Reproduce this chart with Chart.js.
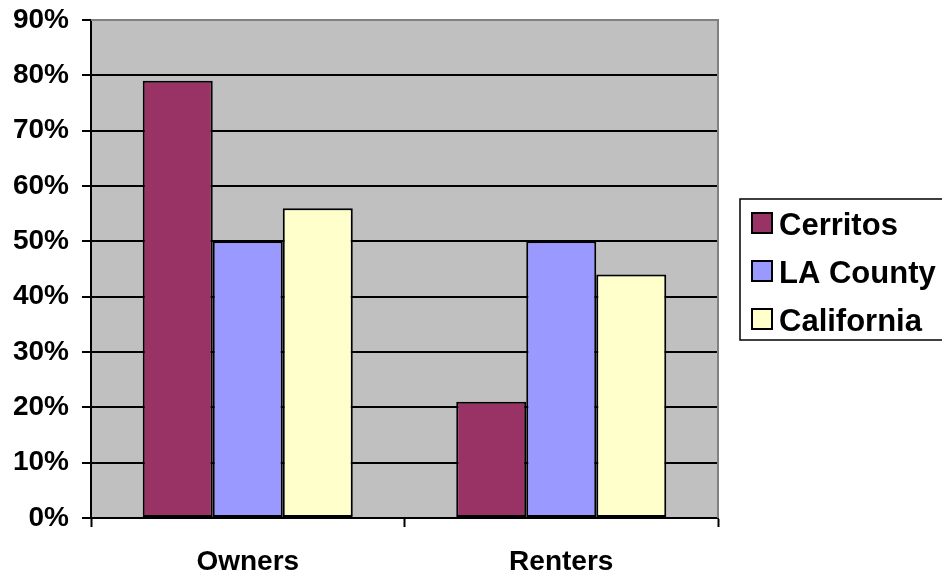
<!DOCTYPE html>
<html>
<head>
<meta charset="utf-8">
<script src="https://cdn.jsdelivr.net/npm/chart.js@4"></script>
<style>
  html, body { margin: 0; padding: 0; background: #fff; }
  #wrap { width: 942px; height: 575px; position: relative; }
</style>
</head>
<body>
<div id="wrap"><canvas id="chart"></canvas></div>
<script>
// housing tenure shares (percent)
const categories = ['Owners', 'Renters'];
const seriesNames = ['Cerritos', 'LA County', 'California'];
const cerritos = [79, 21];
const laCounty = [50, 50];
const california = [56, 44];
const yTicks = [0, 10, 20, 30, 40, 50, 60, 70, 80, 90];

const colors = ['#993366', '#9999FF', '#FFFFCC'];
const FONT = '"Liberation Sans", Arial, sans-serif';

// gray plot background + gray top/right frame
const plotFrame = {
  id: 'plotFrame',
  beforeDraw(chart) {
    const { ctx, chartArea: a } = chart;
    ctx.save();
    ctx.fillStyle = '#C0C0C0';
    ctx.fillRect(a.left, a.top, a.right - a.left, a.bottom - a.top);
    ctx.restore();
  },
  afterDatasetsDraw(chart) {
    const { ctx, chartArea: a } = chart;
    ctx.save();
    ctx.strokeStyle = '#808080';
    ctx.lineWidth = 2;
    ctx.beginPath();
    ctx.moveTo(a.left, a.top);
    ctx.lineTo(a.right, a.top);
    ctx.lineTo(a.right, a.bottom);
    ctx.stroke();
    ctx.restore();
  }
};

// boxed legend on the right
const boxLegend = {
  id: 'boxLegend',
  afterDraw(chart) {
    const ctx = chart.ctx;
    const x = 740, y = 199, w = 210, h = 141;
    ctx.save();
    ctx.strokeStyle = '#000';
    ctx.lineWidth = 1.5;
    ctx.strokeRect(x, y, w, h);
    ctx.font = 'bold 31px ' + FONT;
    ctx.textBaseline = 'alphabetic';
    chart.data.datasets.forEach((ds, i) => {
      const rowY = 213 + i * 48;
      ctx.fillStyle = ds.backgroundColor;
      ctx.fillRect(752, rowY, 20, 20);
      ctx.lineWidth = 2;
      ctx.strokeRect(752, rowY, 20, 20);
      ctx.fillStyle = '#000';
      ctx.fillText(ds.label, 779, rowY + 22);
    });
    ctx.restore();
  }
};

const datasets = [cerritos, laCounty, california].map((vals, i) => ({
  label: seriesNames[i],
  data: vals,
  backgroundColor: colors[i],
  borderColor: '#000',
  borderWidth: 2,
  borderSkipped: false,
  categoryPercentage: 0.67,
  barPercentage: 1.0
}));

new Chart(document.getElementById('chart'), {
  type: 'bar',
  data: { labels: categories, datasets },
  plugins: [plotFrame, boxLegend],
  options: {
    responsive: true,
    maintainAspectRatio: false,
    animation: false,
    layout: { padding: { top: 20, right: 224, left: 0, bottom: 0 } },
    plugins: {
      legend: { display: false },
      tooltip: { enabled: false }
    },
    scales: {
      x: {
        grid: {
          offset: true,
          drawOnChartArea: false,
          drawTicks: true,
          tickLength: 9,
          tickColor: '#000',
          tickWidth: 2
        },
        border: { color: '#000', width: 2 },
        ticks: {
          color: '#000',
          padding: 18,
          font: { family: FONT, size: 28, weight: 'bold' }
        },
        afterFit(scale) {
          scale.height = 57;
          scale.paddingLeft = 0;
          scale.paddingRight = 0;
        }
      },
      y: {
        min: 0,
        max: 90,
        afterBuildTicks(scale) { scale.ticks = yTicks.map(v => ({ value: v })); },
        grid: {
          color: ctx => (ctx.tick && ctx.tick.value === 90 ? '#808080' : '#000'),
          lineWidth: 2,
          drawTicks: true,
          tickLength: 9,
          tickColor: '#000',
          tickWidth: 2
        },
        border: { color: '#000', width: 2 },
        ticks: {
          color: '#000',
          padding: 13,
          callback: v => v + '%',
          font: { family: FONT, size: 28, weight: 'bold' }
        },
        afterFit(scale) {
          scale.width = 91;
          // keep the top edge at the layout padding
          scale.paddingTop = 0;
          scale.paddingBottom = 0;
        }
      }
    }
  }
});
</script>
</body>
</html>
